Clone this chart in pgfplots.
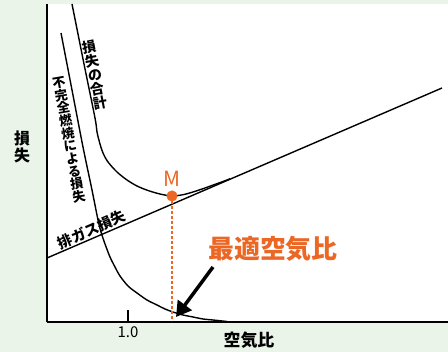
\documentclass[border=0pt]{standalone}
\usepackage{pgfplots}
\pgfplotsset{compat=1.18}
\usepackage{fontspec}
\setmainfont{Noto Sans CJK JP}
\usetikzlibrary{arrows.meta}
\definecolor{bggreen}{RGB}{234,244,232}
\definecolor{morange}{RGB}{236,102,36}
\begin{document}
\begin{tikzpicture}
\fill[bggreen] (0,0) rectangle (448bp,352bp);
\useasboundingbox (0,0) rectangle (448bp,352bp);
\fill[white] (47bp,30bp) rectangle (448bp,348bp);
\begin{axis}[
  scale only axis, width=401bp, height=318bp,
  anchor=south west, at={(47bp,30bp)},
  xmin=47, xmax=448, ymin=30, ymax=348,
  axis x line=bottom, axis y line=left,
  axis line style={line width=1.8bp, -},
  xtick={128}, xticklabels={1.0}, ytick=\empty,
  tick align=inside, major tick length=12bp,
  tick style={line width=1.6bp, black},
  /pgf/number format/assume math mode=true,
  xticklabel style={font=\fontsize{15}{15}\selectfont, yshift=-1bp},
  clip=false,
]
% exhaust gas loss
\addplot[black, line width=1.4bp] coordinates {(47,94) (442,264)};
% incomplete combustion loss
\addplot[black, line width=1.4bp, smooth] coordinates {
(61,319) (72,262) (83,205) (92,162) (98,132) (101,120) (105,108) (110,95) (115,85) (120,76) (128,66) (137,59) (147,52) (157,47) (165,43) (173,40) (183,37) (193,35) (203,33) (213,32) (227,30.5)};
% total loss
\addplot[black, line width=1.4bp, smooth] coordinates {
(72,348) (84,288) (95,234) (97,220) (100,208) (103,199) (108,190) (117,180) (127,172) (137,166) (148,161.5) (160,158) (172,156) (183,157.3) (193,160) (203,163.3) (213,166.9) (223,170.5) (230,173.2)};
% optimum line
\addplot[morange, line width=1.3bp, dash pattern=on 3bp off 2bp] coordinates {(172,156) (172,31)};
\addplot[only marks, mark=*, mark size=5.3bp, morange, mark options={draw=morange, fill=morange}] coordinates {(172,156)};
% arrow
\addplot[black, line width=3.5bp, -{Triangle[length=15bp, width=17bp]}] coordinates {(213,85) (176,35)};
% texts
\node[morange, font=\fontsize{21}{21}\selectfont] at (axis cs:172,173) {M};
\node[morange, font=\bfseries\fontsize{26}{26}\selectfont] at (axis cs:273,103) {最適空気比};
\node[font=\bfseries\fontsize{14.5}{15}\selectfont, rotate=23.5, anchor=south, inner sep=1bp] at (axis cs:95,115) {排ガス損失};
\node[font=\bfseries\fontsize{14}{14.2}\selectfont, align=center, rotate=11, inner sep=0pt] at (axis cs:95,277) {損\\失\\の\\合\\計};
\node[font=\bfseries\fontsize{13}{12.9}\selectfont, align=center, rotate=10, inner sep=0pt] at (axis cs:69,212) {不\\完\\全\\燃\\焼\\に\\よ\\る\\損\\失};
\node[font=\bfseries\fontsize{16}{16.5}\selectfont, align=center, inner sep=0pt] at (axis cs:22,205) {損\\失};
\node[font=\bfseries\fontsize{17}{17}\selectfont] at (axis cs:249,12) {空気比};
\end{axis}
\end{tikzpicture}
\end{document}
